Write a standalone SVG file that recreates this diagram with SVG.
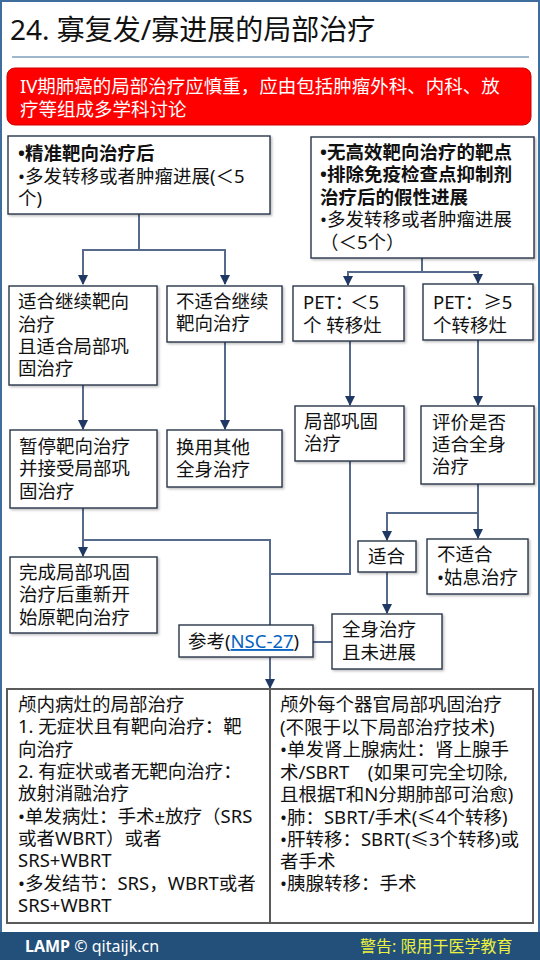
<svg xmlns="http://www.w3.org/2000/svg" width="540" height="960" viewBox="0 0 540 960">
<defs>
<style>
text{font-family:"Noto Sans","Noto Sans CJK SC",sans-serif;font-size:18.5px;fill:#111;}
.t{font-size:28px;}
.w{fill:#fff;}
.b{font-weight:bold;}
.box{fill:#fff;stroke:#27364a;stroke-width:1.4;filter:url(#sh);}
.c{fill:none;stroke:#566b8c;stroke-width:2;}
.ca{fill:none;stroke:#566b8c;stroke-width:2;marker-end:url(#ah);}
.lnk{fill:#0563c1;text-decoration:underline;}
.ft{font-size:16px;fill:#fff;}
.fy{font-size:16px;fill:#ecf23f;}
</style>
<filter id="sh" x="-10%" y="-10%" width="130%" height="130%">
<feDropShadow dx="1.5" dy="1.5" stdDeviation="1" flood-color="#000" flood-opacity="0.25"/>
</filter>
<marker id="ah" viewBox="0 0 10 10" refX="9" refY="5" markerWidth="5" markerHeight="5" orient="auto" markerUnits="strokeWidth">
<path d="M0,0 L10,5 L0,10 z" fill="#1f3864"/>
</marker>
</defs>
<rect x="0" y="0" width="540" height="960" fill="#fff"/>
<rect x="1" y="1" width="538" height="958" fill="none" stroke="#3f6e9e" stroke-width="2"/>
<g id="title">
<text class="t" x="10" y="40">24. 寡复发/寡进展的局部治疗</text>
<line x1="12" y1="57" x2="529" y2="57" stroke="#41719c" stroke-width="1.2"/>
</g>
<g id="banner">
<rect x="7" y="68" width="524" height="57" rx="8" fill="#ff0000" stroke="#d00000" stroke-width="1"/>
<text class="w" x="20" y="93">IV期肺癌的局部治疗应慎重，应由包括肿瘤外科、内科、放</text>
<text class="w" x="20" y="116">疗等组成多学科讨论</text>
</g>
<g id="connectors">
<path class="c" d="M139,214 V250"/>
<path class="ca" d="M139,250 H83 V284"/>
<path class="ca" d="M139,250 H225 V284"/>
<path class="ca" d="M83,385 V429"/>
<path class="ca" d="M225,342 V429"/>
<path class="ca" d="M83,508 V556"/>
<path class="c" d="M83,540 H270 V625"/>
<path class="ca" d="M270,657 V688"/>
<path class="c" d="M350,461 V574 H270"/>
<path class="c" d="M422,258 V272"/>
<path class="ca" d="M422,272 H348 V285"/>
<path class="ca" d="M422,272 H478 V283"/>
<path class="ca" d="M350,341 V405"/>
<path class="ca" d="M478,340 V405"/>
<path class="ca" d="M478,484 V538"/>
<path class="ca" d="M478,513 H387 V540"/>
<path class="ca" d="M387,572 V613"/>
<path class="c" d="M313,642 H332"/>
</g>
<g id="n1">
<rect class="box" x="8" y="136" width="262" height="78"/>
<text x="18" y="160" class="b">•精准靶向治疗后</text>
<text x="18" y="183">•多发转移或者肿瘤进展(＜5</text>
<text x="18" y="205">个)</text>
</g>
<g id="n2">
<rect class="box" x="311" y="137" width="223" height="121"/>
<text x="320" y="159" class="b">•无高效靶向治疗的靶点</text>
<text x="320" y="181" class="b">•排除免疫检查点抑制剂</text>
<text x="320" y="204" class="b">治疗后的假性进展</text>
<text x="320" y="226">•多发转移或者肿瘤进展</text>
<text x="320" y="249">（＜5个）</text>
</g>
<g id="n3">
<rect class="box" x="9" y="286" width="148" height="99"/>
<text x="18" y="308">适合继续靶向</text>
<text x="18" y="331">治疗</text>
<text x="18" y="353">且适合局部巩</text>
<text x="18" y="375">固治疗</text>
</g>
<g id="n4">
<rect class="box" x="167" y="286" width="115" height="56"/>
<text x="176" y="308">不适合继续</text>
<text x="176" y="330">靶向治疗</text>
</g>
<g id="n5">
<rect class="box" x="293" y="286" width="111" height="55"/>
<text x="303" y="309">PET：<tspan x="350">＜5</tspan></text>
<text x="303" y="332">个 转移灶</text>
</g>
<g id="n6">
<rect class="box" x="423" y="284" width="110" height="56"/>
<text x="433" y="309">PET：≥5</text>
<text x="433" y="332">个转移灶</text>
</g>
<g id="n7">
<rect class="box" x="10" y="430" width="147" height="78"/>
<text x="19" y="453">暂停靶向治疗</text>
<text x="19" y="475">并接受局部巩</text>
<text x="19" y="498">固治疗</text>
</g>
<g id="n8">
<rect class="box" x="167" y="430" width="115" height="57"/>
<text x="176" y="454">换用其他</text>
<text x="176" y="476">全身治疗</text>
</g>
<g id="n9">
<rect class="box" x="295" y="406" width="109" height="55"/>
<text x="304" y="428">局部巩固</text>
<text x="304" y="450">治疗</text>
</g>
<g id="n10">
<rect class="box" x="421" y="406" width="113" height="78"/>
<text x="432" y="429">评价是否</text>
<text x="432" y="451">适合全身</text>
<text x="432" y="473">治疗</text>
</g>
<g id="n11">
<rect class="box" x="358" y="541" width="58" height="31"/>
<text x="368" y="563">适合</text>
</g>
<g id="n12">
<rect class="box" x="427" y="539" width="101" height="55"/>
<text x="437" y="561">不适合</text>
<text x="437" y="584">•姑息治疗</text>
</g>
<g id="n13">
<rect class="box" x="10" y="557" width="147" height="76"/>
<text x="19" y="579">完成局部巩固</text>
<text x="19" y="601">治疗后重新开</text>
<text x="19" y="624">始原靶向治疗</text>
</g>
<g id="n14">
<rect class="box" x="179" y="625" width="134" height="32"/>
<text x="188" y="648">参考(<tspan class="lnk">NSC-27</tspan>)</text>
</g>
<g id="n15">
<rect class="box" x="332" y="614" width="110" height="55"/>
<text x="342" y="636">全身治疗</text>
<text x="342" y="659">且未进展</text>
</g>
<g id="table">
<rect x="7" y="689" width="526" height="234" fill="#fff" stroke="#5a5a5a" stroke-width="2"/>
<line x1="270" y1="689" x2="270" y2="923" stroke="#5a5a5a" stroke-width="2"/>
<text x="18" y="711">颅内病灶的局部治疗</text>
<text x="18" y="733">1. 无症状且有靶向治疗：靶</text>
<text x="18" y="756">向治疗</text>
<text x="18" y="778">2. 有症状或者无靶向治疗：</text>
<text x="18" y="800">放射消融治疗</text>
<text x="18" y="823">•单发病灶：手术±放疗（SRS</text>
<text x="18" y="845">或者WBRT）或者</text>
<text x="18" y="867">SRS+WBRT</text>
<text x="18" y="890">•多发结节：SRS，WBRT或者</text>
<text x="18" y="912">SRS+WBRT</text>
<text x="280" y="711">颅外每个器官局部巩固治疗</text>
<text x="280" y="734">(不限于以下局部治疗技术)</text>
<text x="280" y="756">•单发肾上腺病灶：肾上腺手</text>
<text x="280" y="779">术/SBRT　(如果可完全切除,</text>
<text x="280" y="801">且根据T和N分期肺部可治愈)</text>
<text x="280" y="824">•肺：SBRT/手术(≤4个转移)</text>
<text x="280" y="846">•肝转移：SBRT(≤3个转移)或</text>
<text x="280" y="868">者手术</text>
<text x="280" y="890">•胰腺转移：手术</text>
</g>
<g id="footer">
<rect x="0" y="932" width="540" height="28" fill="#22507a"/>
<text class="ft" x="25" y="952"><tspan class="b" style="fill:#fff">LAMP</tspan> © qitaijk.cn</text>
<text class="fy" x="360" y="952">警告: 限用于医学教育</text>
</g>
</svg>
